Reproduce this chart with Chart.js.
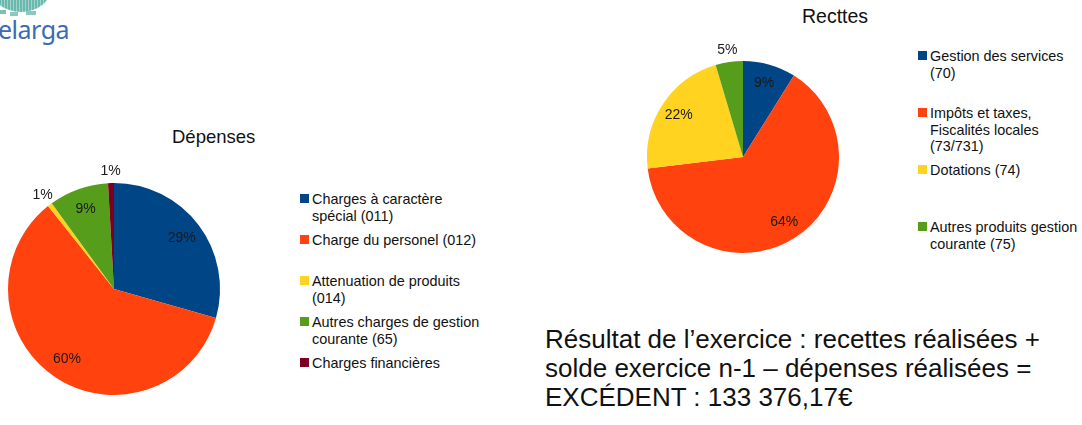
<!DOCTYPE html>
<html>
<head>
<meta charset="utf-8">
<script src="https://cdn.jsdelivr.net/npm/chart.js@4.4.1/dist/chart.umd.min.js"></script>
<style>
    body { margin: 0; background: #fff; }
    #page { position: relative; width: 1082px; height: 425px; overflow: hidden; font-family: "Liberation Sans", Arial, sans-serif; color: #111; }
    canvas { position: absolute; }
    .titre { position: absolute; font-size: 18.5px; }
    .legende { position: absolute; font-size: 14.4px; line-height: 16.5px; }
    .item { position: absolute; left: 0; padding-left: 12px; }
    .carre { position: absolute; left: 0; top: 3px; width: 9px; height: 9px; }
    #resultat { position: absolute; left: 545px; top: 325px; font-size: 26px; line-height: 29px; }
    #logo { position: absolute; left: 0; top: 0; }
</style>
</head>
<body>
<div id="page">
    <div id="logo">
        <div style="position:absolute;left:-10px;top:-40px;width:62px;height:52px;border-radius:50%;background:repeating-linear-gradient(90deg,#6bb8ae 0 2px,#9fd3cb 2px 3px);"></div>
        <div style="position:absolute;left:0;top:10px;width:6px;height:4px;background:#7cc0b6;"></div>
        <div style="position:absolute;left:10px;top:12px;width:8px;height:4px;background:#8cc8bf;"></div>
        <div style="position:absolute;left:26px;top:11px;width:10px;height:4px;background:#8cc8bf;"></div>
        <div style="position:absolute;left:-2px;top:12px;font-family:'Noto Sans',sans-serif;font-size:25px;color:#3a6bb3;letter-spacing:-0.5px;">elarga</div>
    </div>

    <div class="titre" style="left:172px;top:126px;">Dépenses</div>
    <div class="titre" style="left:802px;top:5px;font-size:19.5px;">Recttes</div>

    <canvas id="grafDepenses" width="240" height="318" style="left:0;top:130px;"></canvas>
    <canvas id="grafRecettes" width="240" height="274" style="left:623px;top:20px;"></canvas>

    <div class="legende" id="legDepenses" style="left:300px;top:191px;width:184px;"></div>
    <div class="legende" id="legRecettes" style="left:918px;top:48px;width:164px;"></div>

    <div id="resultat">Résultat de l’exercice : recettes réalisées +<br>solde exercice n-1 – dépenses réalisées =<br>EXCÉDENT : 133 376,17€</div>
</div>

<script>
// valeurs (en %)
const depensesLabels = ['Charges à caractère spécial (011)', 'Charge du personel (012)', 'Attenuation de produits (014)', 'Autres charges de gestion courante (65)', 'Charges financières'];
const depensesValues = [29.4, 59.9, 0.7, 9.1, 0.9];

const recettesLabels = ['Gestion des services (70)', 'Impôts et taxes, Fiscalités locales (73/731)', 'Dotations (74)', 'Autres produits gestion courante (75)'];
const recettesValues = [8.9, 64.2, 22.3, 4.6];

const couleurs = ['#004586', '#ff420e', '#ffd320', '#579d1c', '#7e0021'];

// pourcentages sur les parts, dehors pour les petites
const etiquettes = {
    id: 'etiquettes',
    afterDatasetsDraw(chart) {
        const ctx = chart.ctx;
        const meta = chart.getDatasetMeta(0);
        const vals = chart.data.datasets[0].data;
        const total = vals.reduce((a, b) => a + b, 0);
        ctx.save();
        ctx.font = '14px "Liberation Sans", Arial, sans-serif';
        ctx.fillStyle = '#1a1a1a';
        ctx.textAlign = 'center';
        ctx.textBaseline = 'middle';
        meta.data.forEach((arc, i) => {
            const pct = vals[i] / total * 100;
            const p = arc.getProps(['x', 'y', 'startAngle', 'endAngle', 'outerRadius'], true);
            const mid = (p.startAngle + p.endAngle) / 2;
            const r = pct < 6 ? p.outerRadius + 12 : p.outerRadius * 0.8;
            ctx.fillText(Math.round(pct) + '%', p.x + Math.cos(mid) * r, p.y + Math.sin(mid) * r);
        });
        ctx.restore();
    }
};

function camembert(id, labels, values, rayon, padding) {
    const ctx = document.getElementById(id).getContext('2d');
    return new Chart(ctx, {
        type: 'pie',
        data: {
            labels: labels,
            datasets: [{
                data: values,
                backgroundColor: couleurs.slice(0, values.length),
                borderWidth: 0,
                radius: rayon
            }]
        },
        options: {
            responsive: false,
            animation: false,
            devicePixelRatio: 1,
            layout: { padding: padding },
            plugins: {
                legend: { display: false },
                tooltip: { enabled: false }
            }
        },
        plugins: [etiquettes]
    });
}

function legende(id, labels, pas) {
    const box = document.getElementById(id);
    labels.forEach((txt, i) => {
        const item = document.createElement('div');
        item.className = 'item';
        item.style.top = (i * pas) + 'px';
        item.style.width = (box.offsetWidth - 12) + 'px';
        item.innerHTML = '<span class="carre" style="background:' + couleurs[i] + '"></span>' + txt;
        box.appendChild(item);
    });
}

camembert('grafDepenses', depensesLabels, depensesValues, 106, { left: 0, right: 12 });
camembert('grafRecettes', recettesLabels, recettesValues, 96, 0);

legende('legDepenses', depensesLabels, 41);
legende('legRecettes', recettesLabels, 57);
</script>
</body>
</html>
